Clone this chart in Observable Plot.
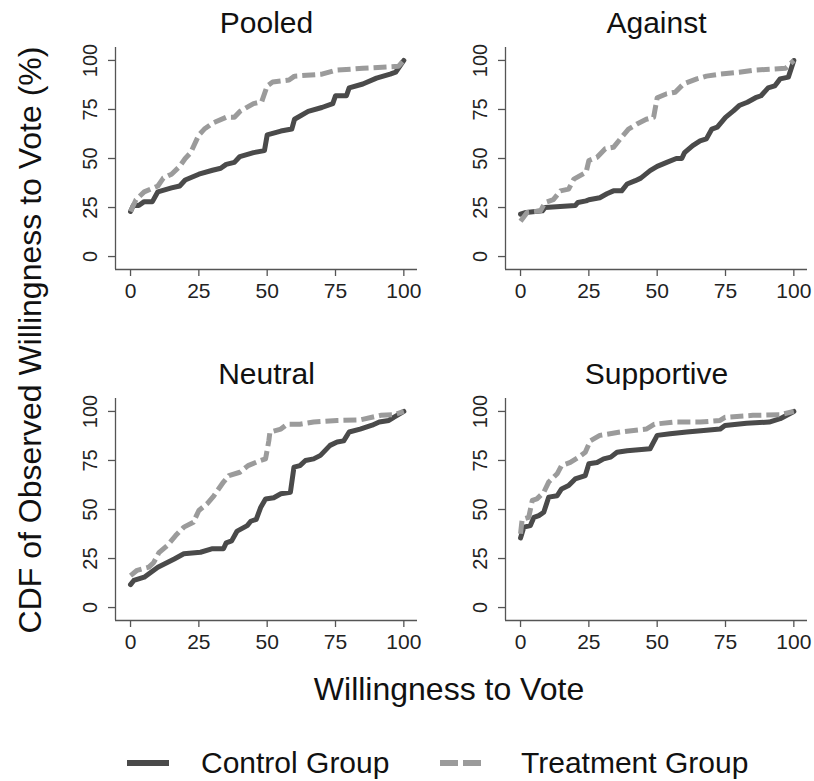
<!DOCTYPE html>
<html>
<head>
<meta charset="utf-8">
<script src="https://cdn.jsdelivr.net/npm/d3@7"></script>
<script src="https://cdn.jsdelivr.net/npm/@observablehq/plot@0.6"></script>
<style>
  html, body { margin: 0; padding: 0; background: #fff; }
  #chart { position: relative; width: 814px; height: 781px; font-family: "Liberation Sans", Arial, Helvetica, sans-serif; color: #111; }
  #chart svg { position: absolute; overflow: visible; }
  .lbl { position: absolute; white-space: nowrap; line-height: 1; }
</style>
</head>
<body>
<div id="chart"></div>
<script>
// Panel titles and groups
const panels = ["Pooled", "Against", "Neutral", "Supportive"];
const groups = ["Control Group", "Treatment Group"];
const tickValues = [0, 25, 50, 75, 100];

// Empirical CDF curves: [willingness to vote, cumulative %]
const pooledControl = [[0,23],[1,26],[3,26],[5,28],[8,28],[10,33],[15,35],[18,36],[20,39],[25,42],[30,44],[33,45],[35,47],[38,48],[40,51],[45,53],[49,54],[50,62],[55,64],[59,65],[60,70],[65,74],[70,76],[74,78],[75,82],[79,82],[80,86],[85,88],[90,91],[95,93],[97,94],[100,100]];
const pooledTreatment = [[0,23],[2,29],[5,33],[10,36],[12,40],[15,42],[18,46],[20,50],[22,53],[25,62],[27,65],[30,68],[35,71],[38,71],[40,74],[45,78],[48,79],[50,87],[52,89],[58,90],[60,92],[70,93],[75,95],[85,96],[98,97],[100,100]];

const againstControl = [[0,21.6],[2,22.5],[8,23.3],[9,25],[20,26],[21,27.6],[24,28.4],[25,29],[29,30],[31.6,32],[34,33.5],[37,33.5],[39,37],[42,38.7],[44,40],[47.4,43.8],[50,46],[53.5,48],[57,50],[59,50],[60,53],[63,56.6],[65.7,59],[68,60],[70,65],[72,66],[75,71],[78,74.4],[80,77],[83,78.7],[86,81],[88,82],[90.6,86],[93,87],[95,90.6],[98,91.5],[100,100]];
const againstTreatment = [[0,18],[2.4,22.5],[7.3,23.3],[9,27.6],[12,29],[14.6,33.5],[17.6,34.4],[19.5,39.5],[24,43],[25,49],[28,50.6],[31,55],[34,55.7],[36.5,60],[39.5,65],[42.6,67.6],[46,70],[48.7,71],[50,81],[53.5,83],[56.6,83.8],[59.6,88],[64.5,90.6],[68,92],[73,93],[80,94],[85,95],[97,96],[100,100]];

const neutralControl = [[0,11.7],[1.2,13.8],[5,15.5],[10,20.6],[16,24.8],[19.5,27.4],[25.6,28.2],[30,30],[34,30],[35,33],[37,34],[39,39],[42.7,41.8],[44,44],[46,45],[47.6,51],[49.4,55.4],[52.4,56],[55,58],[58.5,58.8],[59.8,71.6],[62,72.4],[64,75],[67,75.8],[69.5,77.6],[73,82.7],[75.6,84.4],[78,85],[80,89.5],[84,91],[88.4,93],[91,94.6],[94.5,95.4],[96.3,97],[100,100]];
const neutralTreatment = [[0,16.3],[2.4,19],[6.7,20.6],[8.5,23],[10.4,28],[13.4,31.6],[16.5,36.7],[19.5,41],[23,43.5],[25,49.5],[28,52.9],[30.5,57],[34,64],[36,67.3],[40,69],[43,72.4],[47.6,75],[49.4,75.8],[50.6,85],[51,89.5],[55,91],[57.3,93.5],[62,93.5],[67,94.6],[75.6,95.4],[84,95.7],[91.5,98],[96.3,98.3],[100,100]];

const supportiveControl = [[0,35.5],[1.2,41],[3.6,41.8],[4.9,46],[6.7,46.9],[8.5,48.6],[9.7,53.7],[10.3,56.3],[13.4,57],[15,60.5],[17.6,62.2],[20,65.6],[23.7,67.3],[25,73.3],[28,74],[30.4,75.8],[33,76.7],[35.3,79.2],[39,80],[47.4,81],[50,87.8],[54.7,88.6],[60.8,89.5],[67,90.3],[73,91],[74.8,92.8],[82.7,94],[91,94.6],[95,96.3],[100,100]];
const supportiveTreatment = [[0,37.6],[0.6,45],[3,46],[4.3,54.6],[6,55.4],[8.5,58.8],[10.3,64],[13.4,68.2],[15,72.4],[18.2,74],[21.3,76.7],[23.7,79.2],[25.5,85],[29,87.8],[36.5,89.5],[46,91],[49,93.5],[56,94.6],[65.7,94.6],[73,95.4],[74.8,97],[85,98],[95,98.3],[100,100]];

const curves = [
  [pooledControl, pooledTreatment],
  [againstControl, againstTreatment],
  [neutralControl, neutralTreatment],
  [supportiveControl, supportiveTreatment]
];

// Styling
const controlColor = "#4a4a4a";
const treatmentColor = "#9b9b9b";
const axisColor = "#555";
const font = '"Liberation Sans", Arial, Helvetica, sans-serif';
const xDomain = [-5.5, 105];
const yDomain = [-6.6, 106.6];

// Top-left corner of each panel's SVG inside the figure
const panelPos = [[50, 0], [440, 0], [50, 351], [440, 351]];

const chart = document.getElementById("chart");

function drawPanel(title, control, treatment, left, top) {
  const toRows = (pts, g) => pts.map(([x, y]) => ({x, y, group: g}));
  const svg = Plot.plot({
    width: 380,
    height: 310,
    marginLeft: 65,
    marginRight: 13,
    marginTop: 47,
    marginBottom: 41,
    x: {domain: xDomain},
    y: {domain: yDomain},
    style: {fontFamily: font, fontSize: "20px", color: "#222", background: "transparent"},
    marks: [
      Plot.ruleX([xDomain[0]], {stroke: axisColor, strokeWidth: 1.3}),
      Plot.ruleY([yDomain[0]], {stroke: axisColor, strokeWidth: 1.3}),
      Plot.axisX(tickValues, {tickSize: 7, tickPadding: 7, fontSize: 21, label: null, stroke: axisColor, strokeWidth: 1.3}),
      Plot.axisY(tickValues, {tickSize: 7, tickPadding: 12, fontSize: 20, tickRotate: -90, label: null, stroke: axisColor, strokeWidth: 1.3}),
      Plot.line(toRows(control, groups[0]), {x: "x", y: "y", stroke: controlColor, strokeWidth: 5, strokeLinejoin: "round"}),
      Plot.line(toRows(treatment, groups[1]), {x: "x", y: "y", stroke: treatmentColor, strokeWidth: 5, strokeDasharray: "13,5", strokeLinecap: "butt"}),
      Plot.text([title], {frameAnchor: "top", dy: -15, lineAnchor: "bottom", fontSize: 30, fill: "#111"})
    ]
  });
  svg.style.left = left + "px";
  svg.style.top = top + "px";
  chart.appendChild(svg);
}

panels.forEach((name, i) => drawPanel(name, curves[i][0], curves[i][1], panelPos[i][0], panelPos[i][1]));

// Shared axis titles
function addLabel(text, css) {
  const d = document.createElement("div");
  d.className = "lbl";
  d.textContent = text;
  Object.assign(d.style, css);
  chart.appendChild(d);
  return d;
}
addLabel("CDF of Observed Willingness to Vote (%)", {
  left: "30px", top: "340px", fontSize: "32px",
  transform: "translate(-50%, -50%) rotate(-90deg)"
});
addLabel("Willingness to Vote", {
  left: "449px", top: "673px", fontSize: "32px",
  transform: "translateX(-50%)"
});

// Legend
const legend = [
  {label: groups[0], color: controlColor, dash: null, swatchX: 127, textX: 201},
  {label: groups[1], color: treatmentColor, dash: "18,5", swatchX: 440, textX: 521}
];
const ns = "http://www.w3.org/2000/svg";
const lsvg = document.createElementNS(ns, "svg");
lsvg.setAttribute("width", 814);
lsvg.setAttribute("height", 781);
lsvg.style.left = "0px";
lsvg.style.top = "0px";
lsvg.style.pointerEvents = "none";
for (const item of legend) {
  const ln = document.createElementNS(ns, "line");
  ln.setAttribute("x1", item.swatchX);
  ln.setAttribute("x2", item.swatchX + 42);
  ln.setAttribute("y1", 763);
  ln.setAttribute("y2", 763);
  ln.setAttribute("stroke", item.color);
  ln.setAttribute("stroke-width", 6);
  if (item.dash) ln.setAttribute("stroke-dasharray", item.dash);
  lsvg.appendChild(ln);
  addLabel(item.label, {left: item.textX + "px", top: "748px", fontSize: "30px"});
}
chart.appendChild(lsvg);
</script>
</body>
</html>
